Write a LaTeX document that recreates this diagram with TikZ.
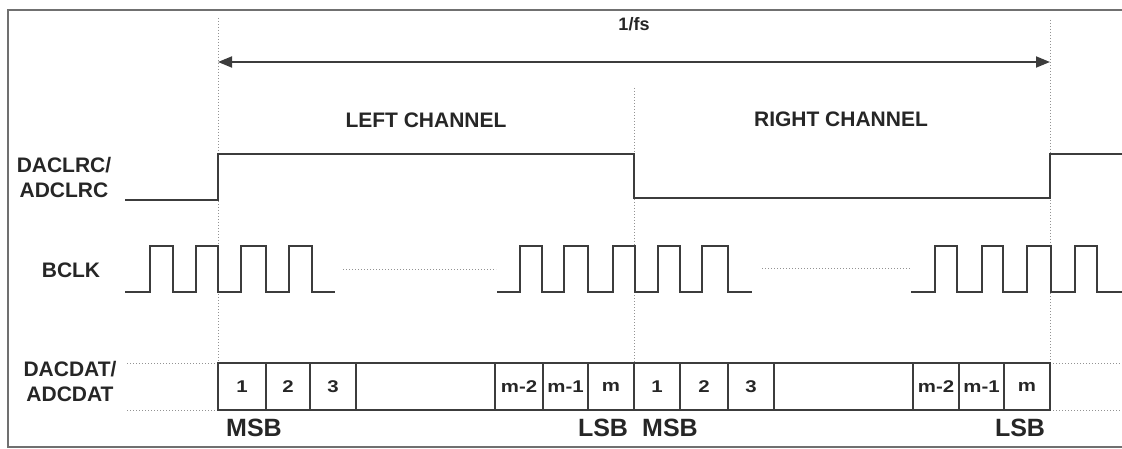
\documentclass[tikz,border=0pt]{standalone}
\usepackage{fontspec}
\setmainfont{Liberation Sans}
\newfontfamily\cellfont[FakeStretch=1.2]{Liberation Sans}
\usetikzlibrary{arrows.meta}

\definecolor{sigcol}{HTML}{3C3C3C}
\definecolor{framecol}{HTML}{707070}
\definecolor{txtcol}{HTML}{262626}

\begin{document}
\begin{tikzpicture}[x=1pt,y=-1pt,
  sig/.style={draw=sigcol,line width=1.8pt},
  guide/.style={draw=gray!85,dotted,line width=1pt},
  lbl/.style={text=txtcol,font=\fontsize{21}{25}\selectfont\bfseries,align=center,inner sep=0pt},
  fslbl/.style={text=txtcol,font=\fontsize{18}{20}\selectfont\bfseries,inner sep=0pt},
  bitlbl/.style={text=txtcol,font=\cellfont\fontsize{17}{19}\selectfont\bfseries,inner sep=0pt},
  edgelbl/.style={text=txtcol,font=\fontsize{25}{28}\selectfont\bfseries,inner sep=0pt}]
\useasboundingbox (0,0) rectangle (1122,449);

% frame
\path[draw=framecol,line width=2pt] (1122,10) -- (8,10) -- (8,447) -- (1122,447);

% frame boundaries
\coordinate (g1t) at (218,18);
\coordinate (g1b) at (218,363);
\coordinate (g2t) at (634,88);
\coordinate (g2b) at (634,363);
\coordinate (g3t) at (1050,20);
\coordinate (g3b) at (1050,363);
\path[guide] (g1t) -- (g1b);
\path[guide] (g2t) -- (g2b);
\path[guide] (g3t) -- (g3b);

% period arrow
\coordinate (aL) at (218,62);
\coordinate (aR) at (1050,62);
\path[sig,{Triangle[length=14pt,width=11pt]}-{Triangle[length=14pt,width=11pt]}] (aL) -- (aR);
\node[fslbl] (fs) at (634,24) {1/fs};

\node[lbl] (left) at (426,120) {LEFT CHANNEL};
\node[lbl] (right) at (841,119) {RIGHT CHANNEL};

% signal names
\node[lbl] (lrc) at (64,177) {DACLRC/\\ADCLRC};
\node[lbl] (bclk) at (71,270) {BCLK};
\node[lbl] (dat) at (70,381) {DACDAT/\\ADCDAT};

% LRC
\path[sig] (125,200) -- (218,200) -- (218,154) -- (634,154) -- (634,198)
  -- (1050,198) -- (1050,154) -- (1122,154);

% BCLK
\path[sig] (125,292) \foreach \r/\f in {150/173,196/218,241/266,289/312}
  {-- (\r,292) -- (\r,246) -- (\f,246) -- (\f,292)} -- (335,292);
\path[sig] (497,292) \foreach \r/\f in {520/542,564/588,613/635,658/680,702/728}
  {-- (\r,292) -- (\r,246) -- (\f,246) -- (\f,292)} -- (752,292);
\path[sig] (911,292) \foreach \r/\f in {935/957,982/1003,1027/1051,1075/1097}
  {-- (\r,292) -- (\r,246) -- (\f,246) -- (\f,292)} -- (1122,292);
\path[guide] (343,269) -- (496,269);
\path[guide] (762,268) -- (911,268);

% data words
\path[guide] (127,363) -- (g1b);
\path[guide] (127,410) -- (218,410);
\path[guide] (g3b) -- (1120,363);
\path[guide] (1050,410) -- (1120,410);
\foreach \a/\b/\t [count=\i] in {218/266/1,266/310/2,310/356/3,356/495/,495/543/m-2,543/588/m-1,588/634/m,
  634/680/1,680/728/2,728/774/3,774/913/,913/959/m-2,959/1004/m-1,1004/1050/m}
{
  \path[sig] (\a,363) rectangle (\b,410);
  \node[bitlbl] (bit\i) at ({(\a+\b)/2},387) {\t};
}

\node[edgelbl] (msbL) at (254,428) {MSB};
\node[edgelbl] (lsbL) at (603,428) {LSB};
\node[edgelbl] (msbR) at (670,428) {MSB};
\node[edgelbl] (lsbR) at (1020,428) {LSB};
\end{tikzpicture}
\end{document}
